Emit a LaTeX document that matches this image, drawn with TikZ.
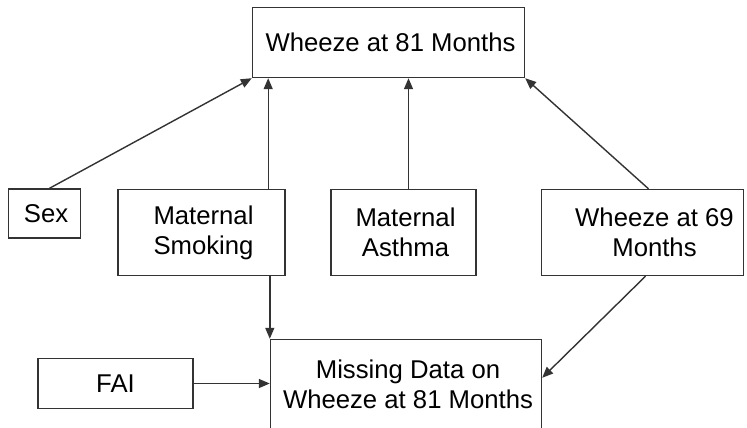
\documentclass[tikz,border=0pt]{standalone}
\usepackage{fontspec}
\setmainfont{Liberation Sans}
\usetikzlibrary{arrows.meta}
\definecolor{ln}{HTML}{333333}
\begin{document}
\begin{tikzpicture}[x=1pt,y=-1pt,
  box/.style={draw=ln, line width=1.4pt, inner sep=0pt, align=center,
    font=\fontsize{25.7}{30}\selectfont, text=black},
  arr/.style={draw=ln, line width=1.4pt, -{Triangle[length=11pt,width=9pt]}}]
\useasboundingbox (0,0) rectangle (747,428);
\clip (0,0) rectangle (747,428);
\node[box, minimum width=272pt, minimum height=70pt] (top) at (388.5,42.5) {\hspace*{4pt}Wheeze at 81 Months};
\node[box, minimum width=72pt, minimum height=49pt] (sex) at (44.5,213.5) {\hspace*{3pt}Sex};
\node[box, minimum width=167pt, minimum height=86pt] (ms) at (201.5,232.5) {\hspace*{4pt}Maternal\\\hspace*{4pt}Smoking};
\node[box, minimum width=145pt, minimum height=86pt] (ma) at (403.5,232.5) {\hspace*{4pt}Maternal\\\hspace*{4pt}Asthma};
\node[box, minimum width=202pt, minimum height=86pt] (w69) at (642.5,232.5) {\hspace*{24pt}Wheeze at 69\\\hspace*{24pt}Months};
\node[box, minimum width=155pt, minimum height=50pt] (fai) at (115.5,383.5) {FAI};
\node[box, minimum width=271pt, minimum height=90pt] (miss) at (406,384.5) {\hspace*{4pt}Missing Data on\\\hspace*{4pt}Wheeze at 81 Months};

\draw[arr] ([xshift=5pt]sex.north) -- (top.south west);
\draw[arr] ([xshift=-17.5pt]ms.north east) -- ([xshift=-17.5pt]ms.north east |- top.south);
\draw[arr] ([xshift=5pt]ma.north) -- ([xshift=5pt]ma.north |- top.south);
\draw[arr] ([xshift=6pt]w69.north) -- (top.south east);
\draw[arr] (ms.south -| miss.north west) -- (miss.north west);
\draw[arr] ([xshift=3pt]w69.south) -- ([yshift=-39pt]miss.north east);
\draw[arr] (fai.east) -- (fai.east -| miss.west);
\end{tikzpicture}
\end{document}
